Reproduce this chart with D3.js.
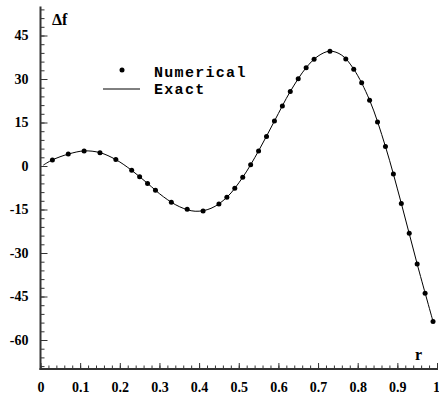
<!DOCTYPE html>
<html><head><meta charset="utf-8">
<script src="https://cdn.jsdelivr.net/npm/d3@7"></script>
<style>
html,body{margin:0;padding:0;background:#fff;}
svg{display:block;}
</style></head>
<body>
<script>
// Numerical samples
const numR = [0.03,0.07,0.11,0.15,0.19,0.23,0.25,0.27,0.29,0.33,0.37,0.41,0.45,0.47,0.49,0.51,0.53,0.55,0.57,0.59,0.61,0.63,0.65,0.67,0.69,0.73,0.77,0.79,0.81,0.83,0.85,0.87,0.89,0.91,0.93,0.95,0.97,0.99];
const numF = [2.1,4.1,5.2,4.6,2.2,-1.5,-3.7,-6.0,-8.4,-12.5,-14.9,-15.5,-13.1,-10.8,-7.7,-3.9,0.45,5.2,10.2,15.5,20.7,25.7,30.1,33.9,36.8,39.6,36.9,33.4,28.7,22.7,15.2,6.7,-2.8,-12.9,-23.2,-33.8,-43.9,-53.6];
// Exact solution
const exR = [0.007,0.03,0.07,0.11,0.15,0.19,0.23,0.27,0.31,0.35,0.39,0.43,0.47,0.51,0.55,0.59,0.63,0.67,0.70,0.73,0.76,0.79,0.83,0.87,0.91,0.95,0.99];
const exF = [0.3,2.1,4.1,5.2,4.6,2.2,-1.5,-6.0,-10.6,-14.0,-15.6,-14.6,-10.8,-3.9,5.2,15.5,25.7,33.9,37.9,39.6,38.2,33.4,22.7,6.7,-12.9,-33.8,-53.6];
const xMajor = [0,0.1,0.2,0.3,0.4,0.5,0.6,0.7,0.8,0.9,1];
const yMajor = [-60,-45,-30,-15,0,15,30,45];
const legendLabels = ["Numerical","Exact"];

const W = 439, H = 396;
const svg = d3.select("body").append("svg").attr("width",W).attr("height",H);
const x = d3.scaleLinear().domain([0,1]).range([40.5,437]);
const y = d3.scaleLinear().domain([-70,55]).range([369,6.5]);

const serif = "Liberation Serif, Times New Roman, serif";
const mono = "Liberation Mono, Courier New, monospace";
const axisColor = "#333";

const xMinor = d3.range(0,1.0001,0.02).map(v=>+v.toFixed(2));
const yMinor = d3.range(-69,55,3);

// X axis
const gx = svg.append("g").attr("transform",`translate(0,${y(-70)})`);
gx.append("g").call(d3.axisBottom(x).tickValues(xMinor).tickSize(-3.5).tickFormat(""))
  .call(g=>g.select(".domain").remove());
gx.append("g").call(d3.axisBottom(x).tickValues(xMajor).tickSize(-6).tickPadding(13)
  .tickFormat(d=> d===0?"0": d===1?"1": d3.format(".1f")(d)))
  .call(g=>g.select(".domain").remove());
gx.append("line").attr("x1",x(0)-1).attr("x2",x(1)+1).attr("stroke",axisColor).attr("stroke-width",2);

// Y axis
const gy = svg.append("g").attr("transform",`translate(${x(0)},0)`);
gy.append("g").call(d3.axisLeft(y).tickValues(yMinor).tickSize(-4).tickFormat(""))
  .call(g=>g.select(".domain").remove());
gy.append("g").call(d3.axisLeft(y).tickValues(yMajor).tickSize(-7).tickPadding(12)
  .tickFormat(d=>String(d)))
  .call(g=>g.select(".domain").remove());
gy.append("line").attr("y1",y(-70)+1).attr("y2",y(55)).attr("stroke",axisColor).attr("stroke-width",2);

svg.selectAll(".tick line").attr("stroke",axisColor).attr("stroke-width",1);
svg.selectAll(".tick text").attr("font-family",serif).attr("font-weight","bold")
  .attr("font-size",14).attr("fill","#000");
gx.selectAll(".tick text").filter(d=>d===1).attr("dx",-1);

// axis titles
svg.append("text").attr("x",52).attr("y",25).attr("font-family",serif).attr("font-weight","bold")
  .attr("font-size",16).text("Δf");
svg.append("text").attr("x",415).attr("y",360).attr("font-family",serif).attr("font-weight","bold")
  .attr("font-size",16).text("r");

// Exact line
const line = d3.line().x((d,i)=>x(exR[i])).y((d,i)=>y(exF[i])).curve(d3.curveCatmullRom.alpha(0.5));
svg.append("path").attr("d",line(exR)).attr("fill","none").attr("stroke","#000").attr("stroke-width",1);

// Numerical points
svg.append("g").selectAll("circle").data(numR).join("circle")
  .attr("cx",(d)=>x(d)).attr("cy",(d,i)=>y(numF[i])).attr("r",2.5).attr("fill","#000");

// Legend
const lg = svg.append("g");
lg.append("circle").attr("cx",122).attr("cy",70).attr("r",2.5).attr("fill","#000");
lg.append("line").attr("x1",103).attr("x2",140).attr("y1",89).attr("y2",89).attr("stroke","#000").attr("stroke-width",1);
lg.selectAll("text").data(legendLabels).join("text")
  .attr("x",154).attr("y",(d,i)=>77+i*17)
  .attr("font-family",mono).attr("font-weight","bold").attr("font-size",15)
  .attr("letter-spacing","1.3px").text(d=>d);
</script>
</body></html>
